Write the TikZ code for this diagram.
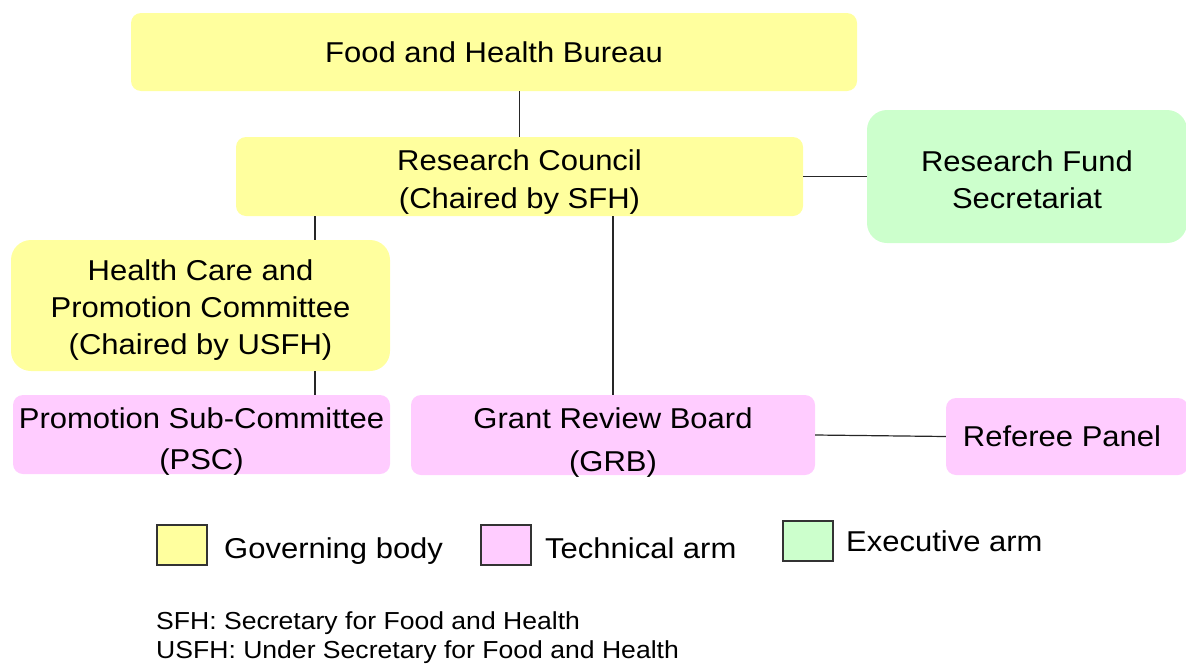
\documentclass[tikz,border=0pt]{standalone}
\usepackage{fontspec}
\setmainfont[FakeStretch=1.08]{Liberation Sans}
\definecolor{govy}{HTML}{FFFF9E}
\definecolor{techp}{HTML}{FFCCFF}
\definecolor{execg}{HTML}{CCFFCC}
\newcommand\mytop[1]{\rule{0pt}{#1pt}}
\newcommand\mybot{\rule[-15pt]{0pt}{0pt}}
\begin{document}
\begin{tikzpicture}[x=1pt,y=-1pt,
  box/.style={rectangle,inner xsep=0pt,inner ysep=-25pt,align=center,font=\fontsize{28.7}{37.5}\selectfont},
  gov/.style={box,fill=govy},
  tech/.style={box,fill=techp},
  exec/.style={box,fill=execg},
  link/.style={line width=1.2pt,draw=black!85},
  legsq/.style={rectangle,draw=black!80,line width=1.4pt,minimum width=50pt,minimum height=40pt,inner sep=0pt},
  legtxt/.style={anchor=base west,inner sep=0pt,font=\fontsize{28.7}{34}\selectfont},
  note/.style={anchor=base west,inner sep=0pt,font=\fontsize{24.6}{30}\selectfont}]
\useasboundingbox (0,0) rectangle (1186,664);
\node[gov,rounded corners=10pt,minimum width=726pt,minimum height=78pt] (fhb) at (494,52) {Food and Health Bureau};
\node[gov,rounded corners=10pt,minimum width=567pt,minimum height=79pt,font=\fontsize{28.7}{37.6}\selectfont] (rc) at (519.5,176.5) {\mytop{41}Research Council\\(Chaired by SFH)\mybot};
\node[exec,rounded corners=20pt,minimum width=320pt,minimum height=133pt,font=\fontsize{28.7}{37.3}\selectfont] (rfs) at (1027,176.5) {\mytop{41.3}Research Fund\\Secretariat\mybot};
\node[gov,rounded corners=20pt,minimum width=379pt,minimum height=131pt,font=\fontsize{28.7}{36.7}\selectfont] (hcpc) at (200.5,305.5) {\mytop{38.7}Health Care and\\Promotion Committee\\(Chaired by USFH)\mybot};
\node[tech,rounded corners=10pt,minimum width=377pt,minimum height=79pt,font=\fontsize{28.7}{41}\selectfont] (psc) at (201.5,434.5) {\mytop{43}Promotion Sub-Committee\\(PSC)\mybot};
\node[tech,rounded corners=10pt,minimum width=404pt,minimum height=80pt,font=\fontsize{28.7}{42.7}\selectfont] (grb) at (613,435) {\mytop{44.3}Grant Review Board\\(GRB)\mybot};
\node[tech,rounded corners=10pt,minimum width=242pt,minimum height=77pt] (ref) at (1067,436.5) {\hspace*{-10pt}Referee Panel};
\draw[link] (rc.north) -- (rc.north |- fhb.south);
\draw[link] (rc.east) -- (rc.east -| rfs.west);
\draw[link] ([xshift=114.5pt]hcpc.north) -- ([xshift=114.5pt]hcpc.north |- rc.south);
\draw[link] ([xshift=114.5pt]hcpc.south) -- ([xshift=114.5pt]hcpc.south |- psc.north);
\draw[link] (grb.north) -- (grb.north |- rc.south);
\draw[link] (grb.east) -- (ref.west);
\node[legsq,fill=govy] (lg) at (182,545) {};
\node[legtxt] (lgt) at (224,558) {Governing body};
\node[legsq,fill=techp] (lt) at (506,545) {};
\node[legtxt] (ltt) at (545,558) {Technical arm};
\node[legsq,fill=execg] (le) at (808,541) {};
\node[legtxt] (let) at (846,551) {Executive arm};
\node[note] (note1) at (156,629) {SFH: Secretary for Food and Health};
\node[note] (note2) at (156,658) {USFH: Under Secretary for Food and Health};
\end{tikzpicture}
\end{document}
